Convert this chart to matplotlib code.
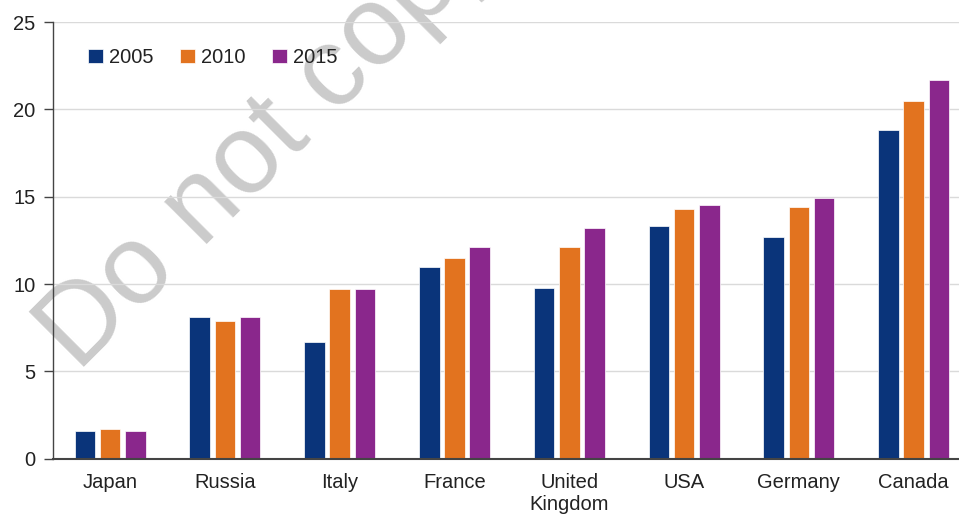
import matplotlib
matplotlib.use("Agg")
import matplotlib.pyplot as plt
import numpy as np

plt.rcParams['font.family'] = ['Liberation Sans', 'DejaVu Sans']

countries = ["Japan", "Russia", "Italy", "France", "United\nKingdom", "USA", "Germany", "Canada"]
years = ["2005", "2010", "2015"]
values_2005 = [1.6, 8.1, 6.7, 11.0, 9.8, 13.3, 12.7, 18.8]
values_2010 = [1.7, 7.9, 9.7, 11.5, 12.1, 14.3, 14.4, 20.5]
values_2015 = [1.6, 8.1, 9.7, 12.1, 13.2, 14.5, 14.9, 21.7]
colors = ["#0a347a", "#e2731f", "#8a278c"]
yticks = [0, 5, 10, 15, 20, 25]

W, H = 959, 514
FS = 14.5
fig = plt.figure(figsize=(W / 100, H / 100), dpi=100)
fig.patch.set_facecolor("white")

# watermark, drawn underneath the axes
fig.text(78 / W, 1 - 373 / H, "Do not copy", rotation=45, rotation_mode="anchor",
         ha="left", va="baseline", fontsize=81, color="#cbcbcb", zorder=-1)

ax = fig.add_axes([52.7 / W, 1 - 458.7 / H, 1 - 52.7 / W, (458.7 - 22) / H])
ax.patch.set_alpha(0)

x = np.arange(len(countries))
offset = 0.22
width = 0.18
series = [values_2005, values_2010, values_2015]
for i, (vals, col, lab) in enumerate(zip(series, colors, years)):
    ax.bar(x + (i - 1) * offset, vals, width, color=col, label=lab,
           edgecolor="white", linewidth=0.5, zorder=3)

ax.set_xlim(-0.5, -0.5 + (W - 52.7) / 114.8)
ax.set_ylim(0, 25)
ax.set_yticks(yticks)
ax.set_xticks(x)
ax.set_xticklabels(countries, fontsize=FS, color="#222222", linespacing=1.25)
ax.tick_params(axis="x", length=0, pad=10)
ax.tick_params(axis="y", length=6.5, width=1.0, color="#444444", pad=6,
               labelsize=FS, labelcolor="#222222")
ax.grid(axis="y", color="#dadada", linewidth=1.0, zorder=1)
ax.set_axisbelow(True)

for s in ["top", "right"]:
    ax.spines[s].set_visible(False)
ax.spines["left"].set_color("#444444")
ax.spines["left"].set_linewidth(1.0)
ax.spines["bottom"].set_color("#444444")
ax.spines["bottom"].set_linewidth(1.5)
ax.spines["bottom"].set_zorder(4)

leg = ax.legend(loc="upper left", bbox_to_anchor=(88 / W, 1 - 48 / H),
                bbox_transform=fig.transFigure, ncol=3, frameon=False,
                fontsize=FS, handlelength=0.75, handleheight=0.7,
                handletextpad=0.3, columnspacing=1.3, borderpad=0, borderaxespad=0)
for t in leg.get_texts():
    t.set_color("#222222")

fig.savefig("out.png", dpi=100)
